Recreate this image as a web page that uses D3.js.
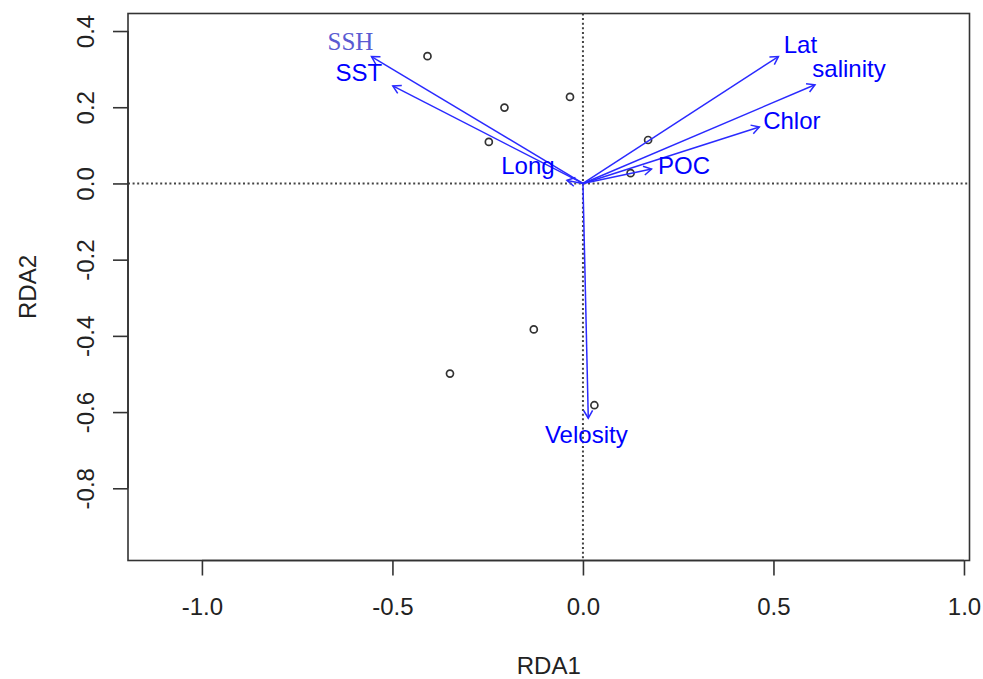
<!DOCTYPE html>
<html>
<head>
<meta charset="utf-8">
<script src="https://cdn.jsdelivr.net/npm/d3@7"></script>
<style>
  html, body { margin: 0; padding: 0; background: #fff; }
  svg { display: block; }
</style>
</head>
<body>
<svg id="chart" width="983" height="679"></svg>
<script>
// Site scores (RDA1, RDA2)
const siteRDA1 = [-0.408, -0.206, -0.034, -0.247, 0.171, 0.125, -0.129, -0.349, 0.030];
const siteRDA2 = [0.334, 0.199, 0.227, 0.109, 0.114, 0.027, -0.383, -0.499, -0.582];

// Environmental variable biplot arrows
const envNames = ["SSH", "SST", "Lat", "salinity", "Chlor", "POC", "Long", "Velosity"];
const envRDA1 = [-0.555, -0.499, 0.513, 0.609, 0.463, 0.180, -0.042, 0.014];
const envRDA2 = [0.333, 0.256, 0.333, 0.259, 0.148, 0.038, 0.008, -0.616];

// Axis ticks
const xTicks = [-1.0, -0.5, 0.0, 0.5, 1.0];
const yTicks = [0.4, 0.2, 0.0, -0.2, -0.4, -0.6, -0.8];

// Label placement relative to each arrow head (pixels)
const labelNudge = {
  SSH: [-21, -15], SST: [-34, -13.5], Lat: [22, -12.5], salinity: [34, -16],
  Chlor: [32.5, -6.5], POC: [32.5, -3.5], Long: [-39, -14.5], Velosity: [-2, 16]
};

const svg = d3.select("#chart");
const plot = { left: 128, right: 969.5, top: 13.5, bottom: 560.5 };

const x = d3.scaleLinear().domain([-1.194, 1.0145]).range([plot.left, plot.right]);
const y = d3.scaleLinear().domain([-0.9895, 0.446]).range([plot.bottom, plot.top]);

const sans = "'Liberation Sans', Arial, Helvetica, sans-serif";
const ink = "#333";
const blue = "#0000ff";
// One decimal, plain hyphen for negatives
const fmt = v => v.toFixed(1);

// Zero reference lines
svg.append("line")
  .attr("x1", x(0)).attr("x2", x(0)).attr("y1", plot.top).attr("y2", plot.bottom)
  .attr("stroke", "#444").attr("stroke-width", 2).attr("stroke-dasharray", "2,2.6");
svg.append("line")
  .attr("x1", plot.left).attr("x2", plot.right).attr("y1", y(0)).attr("y2", y(0))
  .attr("stroke", "#444").attr("stroke-width", 2).attr("stroke-dasharray", "2,2.6");

// Axes
const xAxis = d3.axisBottom(x).tickValues(xTicks).tickSize(15).tickPadding(22).tickFormat(fmt);
const gx = svg.append("g").attr("transform", `translate(0,${plot.bottom})`).call(xAxis);
gx.select(".domain").attr("d", `M${x(xTicks[0])},0H${x(xTicks[xTicks.length - 1])}`);

const yAxis = d3.axisLeft(y).tickValues(yTicks).tickSize(15).tickPadding(0).tickFormat(fmt);
const gy = svg.append("g").attr("transform", `translate(${plot.left},0)`).call(yAxis);
gy.select(".domain").attr("d", `M0,${y(yTicks[0])}V${y(yTicks[yTicks.length - 1])}`);
gy.selectAll(".tick text")
  .attr("x", 0).attr("dy", null)
  .attr("text-anchor", "middle")
  .attr("dominant-baseline", "central")
  .attr("transform", "translate(-43,0) rotate(-90)");

[gx, gy].forEach(g => {
  g.selectAll(".domain, .tick line").attr("stroke", ink).attr("stroke-width", 1.6);
  g.selectAll(".tick text").attr("fill", "#222").style("font-family", sans).style("font-size", "24px");
});

// Plot frame
svg.append("rect")
  .attr("x", plot.left).attr("y", plot.top)
  .attr("width", plot.right - plot.left).attr("height", plot.bottom - plot.top)
  .attr("fill", "none").attr("stroke", ink).attr("stroke-width", 1.6);

// Axis titles
svg.append("text")
  .attr("x", (plot.left + plot.right) / 2).attr("y", 665)
  .attr("text-anchor", "middle").attr("dominant-baseline", "central")
  .style("font-family", sans).style("font-size", "24px").attr("fill", "#222")
  .text("RDA1");
svg.append("text")
  .attr("transform", `translate(27,${(plot.top + plot.bottom) / 2}) rotate(-90)`)
  .attr("text-anchor", "middle").attr("dominant-baseline", "central")
  .style("font-family", sans).style("font-size", "24px").attr("fill", "#222")
  .text("RDA2");

// Site points
svg.append("g").selectAll("circle")
  .data(siteRDA1.map((v, i) => [v, siteRDA2[i]]))
  .join("circle")
  .attr("cx", d => x(d[0])).attr("cy", d => y(d[1]))
  .attr("r", 3.5)
  .attr("fill", "none").attr("stroke", "#333").attr("stroke-width", 1.7);

// Biplot arrows
const env = envNames.map((n, i) => ({ name: n, vx: envRDA1[i], vy: envRDA2[i] }));
const headLen = 9, headAng = Math.PI / 6;
const ga = svg.append("g").attr("fill", "none").attr("stroke", "#2a2aff").attr("stroke-width", 1.5);
env.forEach(d => {
  const x0 = x(0), y0 = y(0), x1 = x(d.vx), y1 = y(d.vy);
  const a = Math.atan2(y1 - y0, x1 - x0);
  ga.append("line").attr("x1", x0).attr("y1", y0).attr("x2", x1).attr("y2", y1);
  const p = d3.path();
  p.moveTo(x1 - headLen * Math.cos(a - headAng), y1 - headLen * Math.sin(a - headAng));
  p.lineTo(x1, y1);
  p.lineTo(x1 - headLen * Math.cos(a + headAng), y1 - headLen * Math.sin(a + headAng));
  ga.append("path").attr("d", p.toString());
});

// Arrow labels
svg.append("g").selectAll("text")
  .data(env)
  .join("text")
  .attr("x", d => x(d.vx) + labelNudge[d.name][0])
  .attr("y", d => y(d.vy) + labelNudge[d.name][1])
  .attr("text-anchor", "middle").attr("dominant-baseline", "central")
  .style("font-family", d => d.name === "SSH" ? "'Liberation Serif', 'Times New Roman', serif" : sans)
  .style("font-size", d => d.name === "SSH" ? "25px" : "24px")
  .attr("fill", d => d.name === "SSH" ? "#5a5ad2" : blue)
  .text(d => d.name);
</script>
</body>
</html>
